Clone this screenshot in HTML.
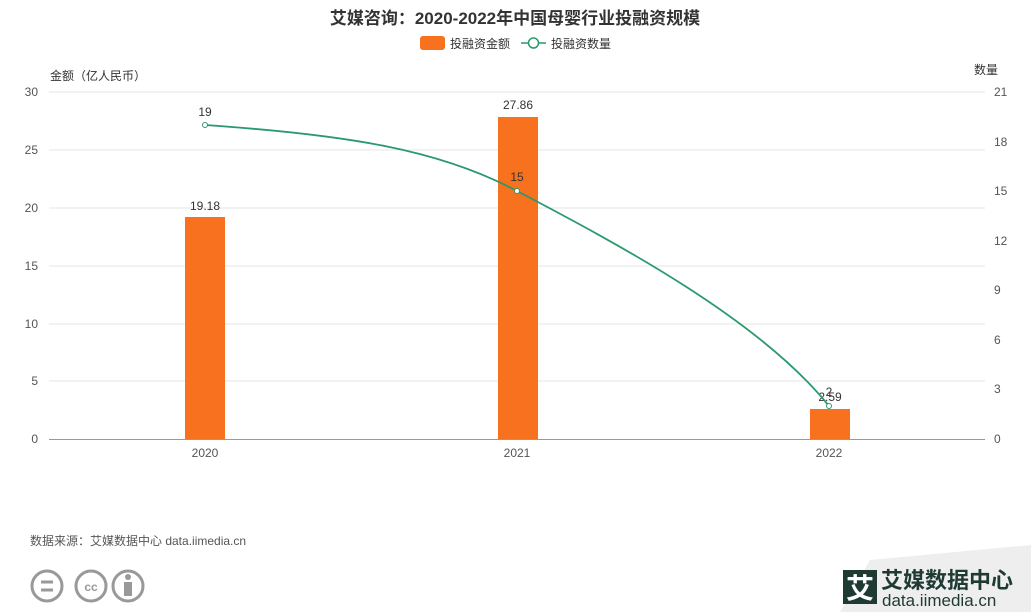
<!DOCTYPE html>
<html><head><meta charset="utf-8"><style>
html,body{margin:0;padding:0;background:#fff;}
svg{display:block;font-family:"Liberation Sans","Noto Sans CJK SC",sans-serif;}
</style></head><body>
<svg width="1031" height="612" viewBox="0 0 1031 612">
<rect width="1031" height="612" fill="#fff"/>
<text x="515" y="24" text-anchor="middle" font-size="17" font-weight="bold" fill="#333">艾媒咨询：2020-2022年中国母婴行业投融资规模</text>
<rect x="420" y="36" width="25" height="14" rx="3" fill="#f7711f"/>
<text x="450" y="48" font-size="12" fill="#333">投融资金额</text>
<line x1="521" y1="43" x2="546" y2="43" stroke="#2a9a6e" stroke-width="1.5"/>
<circle cx="533.5" cy="43" r="5" fill="#fff" stroke="#2a9a6e" stroke-width="1.5"/>
<text x="551" y="48" font-size="12" fill="#333">投融资数量</text>
<text x="50" y="80" font-size="12" fill="#333">金额（亿人民币）</text>
<text x="998" y="74" font-size="12" fill="#333" text-anchor="end">数量</text>
<g stroke="#e6e6e6" stroke-width="1">
<line x1="49" y1="92" x2="985" y2="92"/><line x1="49" y1="150" x2="985" y2="150"/>
<line x1="49" y1="208" x2="985" y2="208"/><line x1="49" y1="266" x2="985" y2="266"/>
<line x1="49" y1="324" x2="985" y2="324"/><line x1="49" y1="381" x2="985" y2="381"/>
</g>
<line x1="49" y1="439.5" x2="985" y2="439.5" stroke="#999"/>
<g font-size="12" fill="#555" text-anchor="end">
<text x="38" y="96">30</text><text x="38" y="154">25</text><text x="38" y="212">20</text>
<text x="38" y="270">15</text><text x="38" y="328">10</text><text x="38" y="385">5</text><text x="38" y="443">0</text>
</g>
<g font-size="12" fill="#555">
<text x="994" y="96">21</text><text x="994" y="146">18</text><text x="994" y="195">15</text>
<text x="994" y="245">12</text><text x="994" y="294">9</text><text x="994" y="344">6</text>
<text x="994" y="393">3</text><text x="994" y="443">0</text>
</g>
<rect x="185" y="217" width="40" height="222" fill="#f7711f"/>
<rect x="498" y="117" width="40" height="322" fill="#f7711f"/>
<rect x="810" y="409" width="40" height="30" fill="#f7711f"/>
<g font-size="12" fill="#333" text-anchor="middle">
<text x="205" y="210">19.18</text><text x="518" y="109">27.86</text><text x="830" y="401">2.59</text>
<text x="205" y="116">19</text><text x="517" y="181">15</text><text x="829" y="396">2</text>
</g>
<path d="M205,125 C350,135 440,150 517,191 C620,245 760,320 829,406" fill="none" stroke="#2a9a6e" stroke-width="1.8"/>
<circle cx="205" cy="125" r="2.5" fill="#fff" stroke="#2a9a6e"/>
<circle cx="517" cy="191" r="2.5" fill="#fff" stroke="#2a9a6e"/>
<circle cx="829" cy="406" r="2.5" fill="#fff" stroke="#2a9a6e"/>
<g font-size="12" fill="#555" text-anchor="middle">
<text x="205" y="457">2020</text><text x="517" y="457">2021</text><text x="829" y="457">2022</text>
</g>
<text x="30" y="545" font-size="12" fill="#555">数据来源：艾媒数据中心 data.iimedia.cn</text>
<g stroke="#999" stroke-width="3" fill="none">
<circle cx="47" cy="586" r="15"/><circle cx="91" cy="586" r="15"/><circle cx="128" cy="586" r="15"/>
</g>
<line x1="41" y1="582" x2="53" y2="582" stroke="#999" stroke-width="3"/>
<line x1="41" y1="590" x2="53" y2="590" stroke="#999" stroke-width="3"/>
<text x="91" y="591" font-size="12" font-weight="bold" fill="#999" text-anchor="middle">cc</text>
<circle cx="128" cy="577" r="3" fill="#999"/>
<rect x="124" y="582" width="8" height="14" fill="#999"/>
<polygon points="840,612 870,560 1031,545 1031,612" fill="#eee"/>
<rect x="843" y="570" width="34" height="34" fill="#1f3a33"/>
<text x="860" y="598" font-size="28" font-weight="bold" fill="#fff" text-anchor="middle">艾</text>
<text x="881" y="588" font-size="22" font-weight="bold" fill="#1f3a33">艾媒数据中心</text>
<text x="882" y="606" font-size="17" fill="#1f3a33">data.iimedia.cn</text>
</svg>
</body></html>
